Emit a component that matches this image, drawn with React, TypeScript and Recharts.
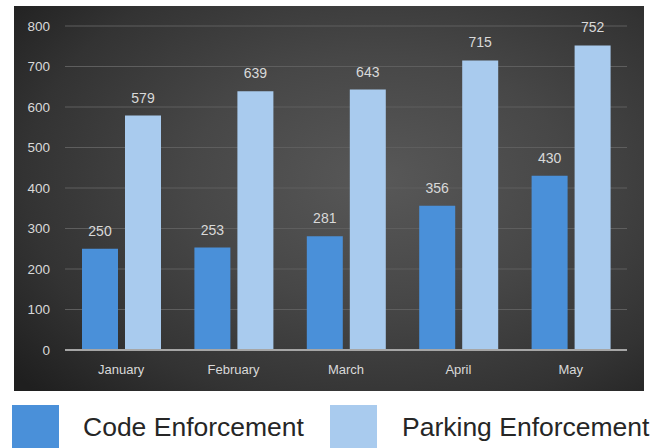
import { BarChart, Bar, XAxis, YAxis, CartesianGrid, LabelList } from 'recharts';

const months = ['January', 'February', 'March', 'April', 'May'];
const codeEnforcement = [250, 253, 281, 356, 430];
const parkingEnforcement = [579, 639, 643, 715, 752];
const yTicks = [0, 100, 200, 300, 400, 500, 600, 700, 800];

const CODE_COLOR = '#4a90d9';
const PARKING_COLOR = '#a9cbee';
const TEXT_COLOR = '#d9d9d9';
const FONT = '"Liberation Sans", Arial, sans-serif';

const data = months.map((month, i) => ({
  month,
  code: codeEnforcement[i],
  parking: parkingEnforcement[i],
}));

export default function App() {
  return (
    <div
      style={{
        position: 'fixed',
        left: 0,
        top: 0,
        width: 666,
        height: 448,
        background: '#ffffff',
        overflow: 'hidden',
        fontFamily: FONT,
      }}
    >
      {/* dark panel */}
      <div
        style={{
          position: 'absolute',
          left: 14,
          top: 6,
          width: 630,
          height: 385,
          background:
            'radial-gradient(ellipse 75% 80% at 58% 45%, #585858 0%, #474747 40%, #333333 75%, #1f1f1f 100%)',
        }}
      >
        <BarChart
          width={630}
          height={385}
          data={data}
          margin={{ top: 20, right: 17, left: 0, bottom: 0 }}
          barSize={36}
          barGap={7}
        >
          <CartesianGrid vertical={false} stroke="#5e5e5e" strokeWidth={1} />
          <XAxis
            dataKey="month"
            axisLine={{ stroke: '#a6a6a6', strokeWidth: 2 }}
            tickLine={false}
            tickSize={0}
            tickMargin={15}
            height={41}
            tick={{ fill: TEXT_COLOR, fontSize: 13, fontFamily: FONT }}
          />
          <YAxis
            domain={[0, 800]}
            ticks={yTicks}
            width={51}
            axisLine={false}
            tickLine={false}
            tickSize={0}
            tickMargin={15}
            tick={{ fill: TEXT_COLOR, fontSize: 13.5, fontFamily: FONT }}
          />
          <Bar dataKey="code" fill={CODE_COLOR} isAnimationActive={false}>
            <LabelList
              dataKey="code"
              position="top"
              offset={13}
              fill={TEXT_COLOR}
              fontSize={14}
              fontFamily={FONT}
            />
          </Bar>
          <Bar dataKey="parking" fill={PARKING_COLOR} isAnimationActive={false}>
            <LabelList
              dataKey="parking"
              position="top"
              offset={13}
              fill={TEXT_COLOR}
              fontSize={14}
              fontFamily={FONT}
            />
          </Bar>
        </BarChart>
      </div>

      {/* legend */}
      <div style={{ position: 'absolute', left: 12, top: 405, width: 47, height: 50, background: CODE_COLOR }} />
      <div
        style={{
          position: 'absolute',
          left: 83,
          top: 412,
          fontSize: 26.5,
          lineHeight: '30px',
          color: '#262626',
          whiteSpace: 'nowrap',
        }}
      >
        Code Enforcement
      </div>
      <div style={{ position: 'absolute', left: 330, top: 405, width: 47, height: 50, background: PARKING_COLOR }} />
      <div
        style={{
          position: 'absolute',
          left: 402,
          top: 412,
          fontSize: 26.5,
          lineHeight: '30px',
          color: '#262626',
          whiteSpace: 'nowrap',
        }}
      >
        Parking Enforcement
      </div>
    </div>
  );
}
